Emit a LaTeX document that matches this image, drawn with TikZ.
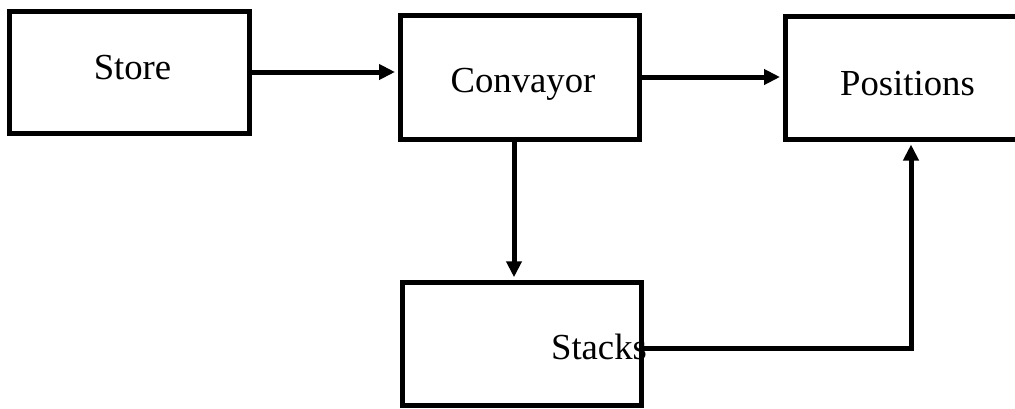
\documentclass[tikz,border=0pt]{standalone}
\usepackage{fontspec}
\setmainfont{Liberation Serif}
\usetikzlibrary{arrows.meta}
\begin{document}
\begin{tikzpicture}[x=1pt,y=-1pt,
  block/.style={draw=black,line width=5pt,fill=none,rectangle,inner sep=0pt},
  caption/.style={anchor=base,inner sep=0pt,font=\fontsize{36.7}{44}\selectfont},
  flow/.style={line width=5pt,-{Triangle[length=16pt,width=15pt]},shorten >=2.5pt}]
  \clip (0,0) rectangle (1015,408);
  \fill[white] (0,0) rectangle (1015,408);

  % boxes
  \node[block,minimum width=240.5pt,minimum height=122pt] (store) at (129.5,72) {};
  \node[block,minimum width=239pt,minimum height=124pt] (convayor) at (519.5,77) {};
  \node[block,minimum width=245pt,minimum height=123.5pt] (positions) at (907.5,77.75) {};
  \node[block,minimum width=239pt,minimum height=123.5pt] (stacks) at (521.5,344) {};

  % labels
  \node[caption] (storetxt) at (132.5,79) {Store};
  \node[caption] (convayortxt) at (523,92) {Convayor};
  \node[caption] (positionstxt) at (907.5,95) {Positions};
  \node[caption] (stackstxt) at (599,359) {Stacks};

  % connectors
  \draw[flow] (store.east) -- (store.east -| convayor.west);
  \draw[flow] (convayor.east) -- (convayor.east -| positions.west);
  \coordinate (drop) at (514,0);
  \draw[flow] (drop |- convayor.south) -- (drop |- stacks.north);
  \coordinate (bend) at (911,348);
  \draw[flow] (stacks.east |- bend) -- (bend) -- (bend |- positions.south);
\end{tikzpicture}
\end{document}
